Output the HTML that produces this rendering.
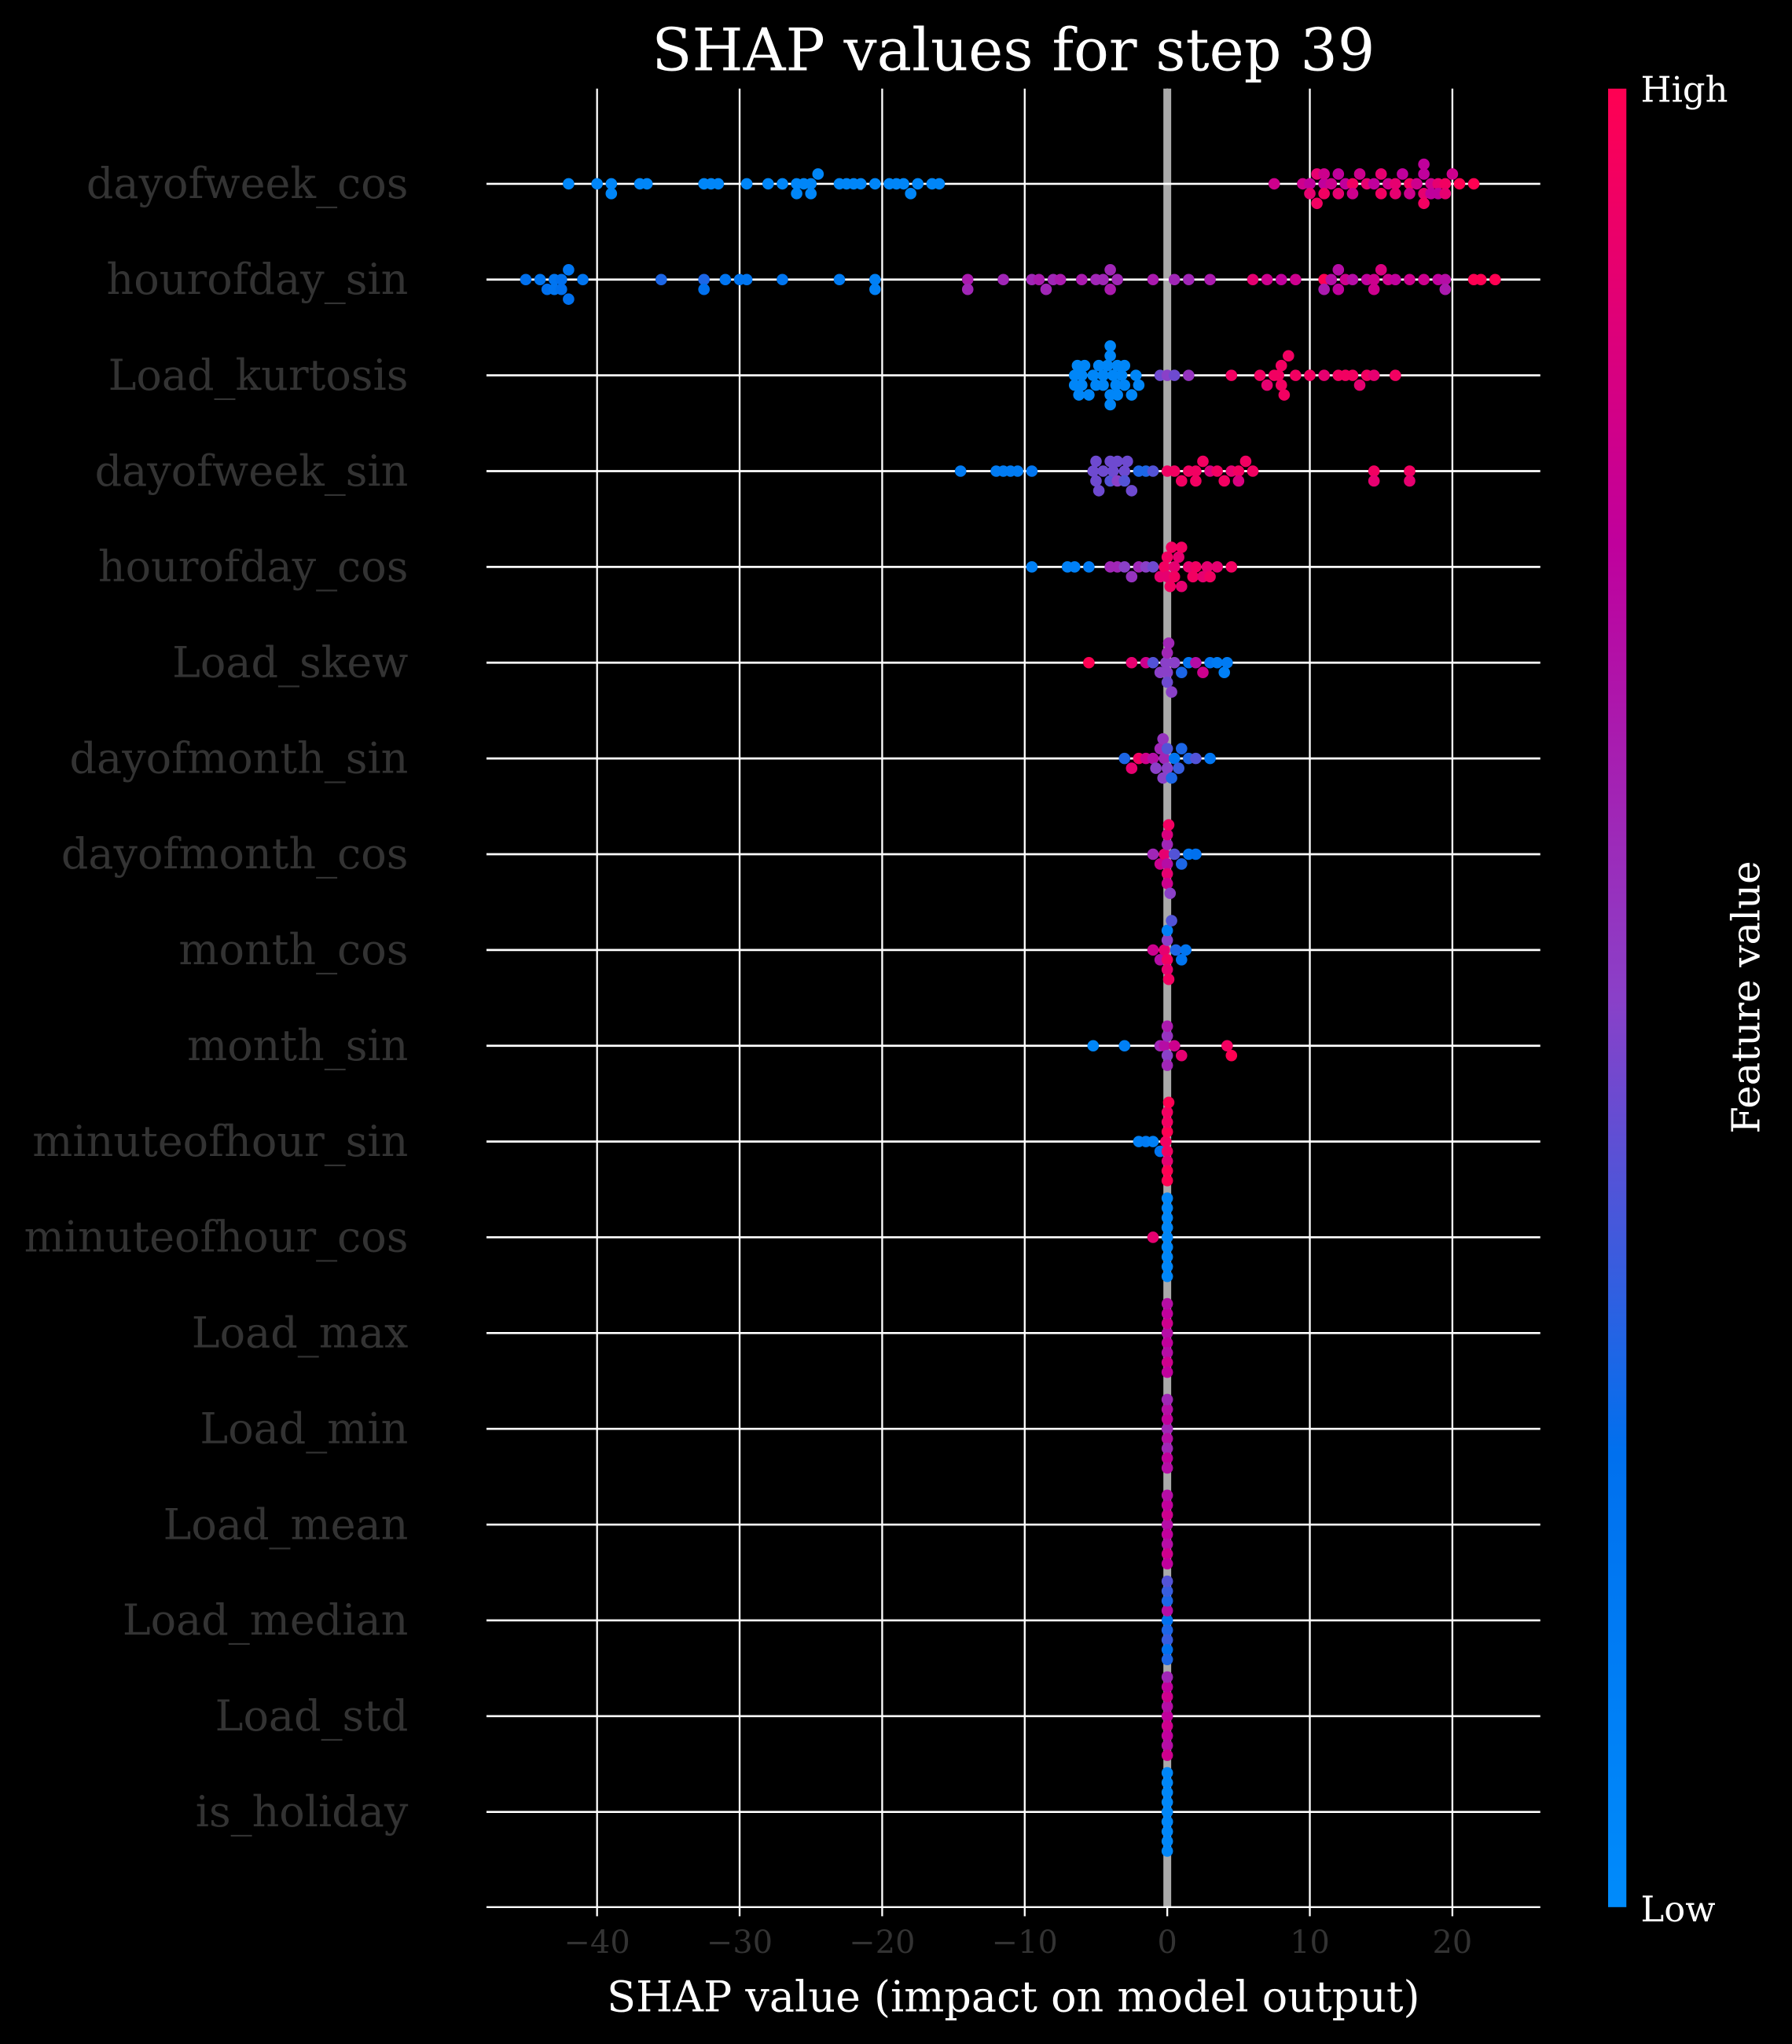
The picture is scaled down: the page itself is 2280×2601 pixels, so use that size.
<!DOCTYPE html>
<html><head><meta charset="utf-8"><style>
html,body{margin:0;padding:0;background:#000;}
svg{display:block;}
text{font-family:"DejaVu Serif","Liberation Serif",serif;}
</style></head><body>
<svg id="chart" width="2280" height="2601" viewBox="0 0 1374 1568" preserveAspectRatio="none" xmlns="http://www.w3.org/2000/svg">
<defs><linearGradient id="cb" x1="0" y1="1" x2="0" y2="0">
<stop offset="0" stop-color="#008bfb"/><stop offset="0.25" stop-color="#0070ee"/><stop offset="0.5" stop-color="#8a40c8"/><stop offset="0.75" stop-color="#c0009c"/><stop offset="1" stop-color="#ff0052"/></linearGradient></defs>
<rect width="1374" height="1568" fill="#000"/>
<text x="777" y="54" font-size="45" fill="#fff" text-anchor="middle">SHAP values for step 39</text>
<g id="grid"></g><g id="rows"></g><g id="dots"></g><g id="xaxis"></g>
<text x="777" y="1543" font-size="32.5" fill="#fff" text-anchor="middle">SHAP value (impact on model output)</text>
<rect x="1233" y="68" width="14" height="1395" fill="url(#cb)"/>
<text x="1258" y="78" font-size="27" fill="#fff">High</text>
<text x="1258" y="1474" font-size="27" fill="#fff">Low</text>
<text x="1349" y="765" font-size="30" fill="#fff" text-anchor="middle" transform="rotate(-90 1349 765)">Feature value</text>
</svg>
<script>
const features=["dayofweek_cos","hourofday_sin","Load_kurtosis","dayofweek_sin","hourofday_cos","Load_skew","dayofmonth_sin","dayofmonth_cos","month_cos","month_sin","minuteofhour_sin","minuteofhour_cos","Load_max","Load_min","Load_mean","Load_median","Load_std","is_holiday"];
const xTicks=[-40,-30,-20,-10,0,10,20];
const shapVals=[
[-42,-40,-39,-39,-37,-36.5,-32.5,-32,-31.5,-29.5,-28,-27,-26,-25.5,-25,-24.5,-23,-22,-21.5,-20.5,-19.5,-19,-18.5,-18,-17.5,-16.5,-16,-26,-25,-22.5,7.5,9.5,10,10.5,11,11,11.5,12,12.5,13,13.5,14,14.5,15,15.5,16,16.5,17,17.5,18,18,18,18.5,19,19,19.5,20,20.5,21.5,10,11,12,15,17,18.5,19.5,10.5,13,16,18],
[-45,-44,-43.5,-43,-42.5,-42,-42,-41,-35.5,-32.5,-32.5,-31,-30,-29.5,-27,-23,-20.5,-20.5,-43,-42.5,-14,-14,-11.5,-9.5,-9,-8.5,-8,-7.5,-6,-5,-4.5,-4,-3.5,-4,-1,0.5,1.5,3,6,7,8,9,11,11.5,12,12.5,13,14,14.5,15,15.5,16,17,18,19,19.5,21.5,22,23,11,12,14.5,19.5],
[-6.5,-6.5,-6.3,-6,-6,-5.5,-5,-4.5,-4.5,-4,-4,-4,-3.5,-3.5,-3,-3,-2.5,-2,-6.2,-5.8,-4.2,-3.8,-4.8,-3.2,-2.2,-5.2,-4,-3.6,-0.5,0,0.5,1.5,4.5,6.5,7,7.5,8,8,8.5,9,10,11,12,13,13.5,14,14.5,16,7.8,8.2,12.5],
[-14.5,-12,-11.5,-11,-10.5,-9.5,-5,-5,-4.5,-4,-4,-3.5,-3.5,-3,-3,-2.5,-2,-5.2,-4.8,-3.8,-2.8,-1.5,-1,0,0.5,1,1.5,2,2,2.5,3.5,4,4.5,5,5.5,6,14.5,14.5,17,17,3,5],
[-9.5,-7,-6.5,-5.5,-4,-3.5,-3,-2.5,-2,-1.5,-1,0,0,0.5,0.5,1,1,1.5,2,2.5,3,3.5,4.5,-0.5,0.2,0.8,1.8,2.8,-0.2,0.3],
[-5.5,-2.5,-1.5,-1,-0.5,0,0,0,0.3,0.5,1,1.5,2,2.5,3,3.5,4,4.2,0.1,-0.1],
[-3,-2.5,-2,-1.5,-1,-0.5,-0.3,0,0,0.3,0.5,1,1.5,2,3,-0.8,0.8,-0.3,-0.2],
[-1,-0.5,0,0,0.2,0.5,1,1.5,2,-0.2,0.1,0,0,0],
[-1,-0.5,0,0,0.3,0.6,1,1.3,-0.2,0.1,0,0],
[-5.2,-3,-0.5,0,0,0.5,1,4.2,4.5,-0.2,0,0],
[-2,-1.5,-1,-0.5,0,0,0,0.1,-0.1,0,0,0,0],
[-1,0,0,0,0,0,0,0,0,0,0,0],
[0,0,0,0,0,0,0,0],
[0,0,0,0,0,0,0,0],
[0,0,0,0,0,0,0,0],
[0,0,0,0,0,0,0,0,0],
[0,0,0,0,0,0,0,0,0],
[0,0,0,0,0,0,0,0,0,0]];
const featVals=[
[0.05,0.05,0.05,0.05,0.05,0.05,0.05,0.05,0.05,0.05,0.05,0.05,0.05,0.05,0.05,0.05,0.05,0.05,0.05,0.05,0.05,0.05,0.05,0.05,0.05,0.05,0.05,0.05,0.05,0.05,0.8,0.8,0.75,0.9,0.75,0.95,0.8,0.9,0.75,0.95,0.8,0.9,0.75,0.95,0.8,0.9,0.75,0.95,0.8,0.9,0.75,0.95,0.8,0.9,0.75,0.95,0.8,1,1,0.9,0.8,0.75,0.9,0.8,0.75,0.9,0.95,0.8,0.9,0.75],
[0.25,0.2,0.25,0.2,0.25,0.2,0.25,0.2,0.3,0.3,0.25,0.2,0.2,0.2,0.2,0.15,0.1,0.1,0.2,0.25,0.65,0.6,0.6,0.6,0.65,0.6,0.6,0.65,0.65,0.6,0.6,0.65,0.6,0.6,0.65,0.6,0.6,0.65,0.9,0.8,0.75,0.8,1,0.7,0.75,0.8,0.7,0.75,0.8,0.85,0.8,0.75,0.8,0.8,0.75,0.7,1,1,1,0.65,0.7,0.8,0.65],
[0.05,0.05,0.05,0.05,0.05,0.05,0.05,0.05,0.05,0.05,0.05,0.05,0.05,0.05,0.05,0.05,0.05,0.05,0.05,0.05,0.05,0.05,0.05,0.05,0.05,0.05,0.05,0.05,0.45,0.5,0.45,0.55,0.95,0.95,0.9,0.95,0.95,0.95,0.95,0.95,0.95,0.9,0.95,0.95,0.9,0.95,0.9,0.95,0.95,0.95,0.95],
[0.15,0.15,0.15,0.15,0.15,0.2,0.45,0.45,0.45,0.4,0.45,0.5,0.45,0.45,0.4,0.45,0.3,0.45,0.45,0.45,0.45,0.3,0.4,0.95,0.95,0.95,0.95,0.95,0.95,0.95,0.95,0.95,0.9,0.95,0.95,0.95,0.95,0.9,0.95,0.9,0.85,0.85],
[0.1,0.1,0.1,0.15,0.6,0.6,0.5,0.55,0.6,0.5,0.45,0.9,0.95,0.9,0.95,0.9,0.95,0.9,0.95,0.9,0.95,0.9,0.95,0.9,0.95,0.9,0.95,0.9,0.95,0.95],
[1,0.9,0.8,0.4,0.5,0.5,0.6,0.45,0.5,0.5,0.3,0.2,0.7,0.8,0.2,0.15,0.1,0.15,0.6,0.5],
[0.3,0.9,0.95,0.8,0.7,0.6,0.5,0.5,0.4,0.3,0.2,0.3,0.3,0.4,0.2,0.5,0.35,0.55,0.6],
[0.6,0.8,0.7,0.6,0.5,0.4,0.3,0.2,0.25,0.9,0.95,0.9,0.85,0.8],
[0.8,0.7,0.95,0.5,0.4,0.3,0.2,0.2,0.9,0.95,0.9,0.1],
[0.05,0.1,0.6,0.5,0.55,0.8,0.9,0.95,1,0.7,0.6,0.65],
[0.1,0.15,0.1,0.2,0.95,1,0.9,1,0.95,0.95,1,0.95,1],
[0.9,0.05,0.05,0.05,0.05,0.05,0.05,0.05,0.05,0.05,0.05,0.05],
[0.7,0.75,0.8,0.7,0.75,0.8,0.7,0.75],
[0.6,0.7,0.75,0.6,0.7,0.75,0.6,0.7],
[0.7,0.75,0.8,0.7,0.75,0.8,0.7,0.75],
[0.25,0.3,0.7,0.35,0.3,0.25,0.35,0.3,0.4],
[0.75,0.8,0.7,0.75,0.8,0.7,0.75,0.8,0.6],
[0.05,0.05,0.05,0.05,0.05,0.05,0.05,0.05,0.05,0.05]];

const NS="http://www.w3.org/2000/svg";
const X0=895, PX_PER_UNIT=10.93, ROW0=141, ROW_STEP=73.47, AX_L=373, AX_R=1181, AX_T=68, AX_B=1463;
const xs=v=>X0+v*PX_PER_UNIT;
const ys=i=>ROW0+i*ROW_STEP;
function mk(tag,attrs,parent){const e=document.createElementNS(NS,tag);for(const k in attrs)e.setAttribute(k,attrs[k]);parent.appendChild(e);return e;}
const stops=[[0,[0,139,251]],[0.25,[0,112,238]],[0.5,[138,64,200]],[0.75,[192,0,156]],[1,[255,0,82]]];
function col(t){for(let i=1;i<stops.length;i++){if(t<=stops[i][0]){const a=stops[i-1],b=stops[i],f=(t-a[0])/(b[0]-a[0]);return 'rgb('+a[1].map((c,j)=>Math.round(c+(b[1][j]-c)*f)).join(',')+')';}}return 'rgb(255,0,82)';}
const grid=document.getElementById('grid'),rows=document.getElementById('rows'),dots=document.getElementById('dots'),xa=document.getElementById('xaxis');
xTicks.forEach(t=>{
 const l=mk('line',{x1:xs(t),x2:xs(t),y1:AX_T,y2:AX_B,stroke:'#fff','stroke-width':1.4},grid);
 
 
 const tk=mk('line',{x1:xs(t),x2:xs(t),y1:AX_B,y2:AX_B+7,stroke:'#fff','stroke-width':1.4},xa);
 
 
 const tx=mk('text',{x:xs(t),y:AX_B+35,'font-size':24,fill:'#333','text-anchor':'middle'},xa);
 tx.textContent=(t<0?'\u2212'+(-t):String(t));
 
 
});
const zl=mk('line',{x1:xs(0),x2:xs(0),y1:AX_T,y2:AX_B,stroke:'#aaa','stroke-width':6},grid);


const ax=mk('line',{x1:AX_L,x2:AX_R,y1:AX_B,y2:AX_B,stroke:'#fff','stroke-width':1.4},xa);


features.forEach((f,i)=>{
 const y=ys(i);
 const l=mk('line',{x1:AX_L,x2:AX_R,y1:y,y2:y,stroke:'#fff','stroke-width':1.6},rows);
 
 
 const t=mk('text',{x:313,y:y+11,'font-size':32.5,fill:'#333','text-anchor':'end'},rows);
 t.textContent=f;
 
 
 const vals=shapVals[i],fv=featVals[i];
 const idx=vals.map((v,k)=>k).sort((a,b)=>vals[a]-vals[b]);
 const bins={};
 idx.forEach(k=>{
  const px=xs(vals[k]);const b=Math.round(px/8);
  const n=bins[b]||0;bins[b]=n+1;
  let m=Math.ceil(n/2)*(n%2?1:-1);let off=m*7.5;
  while(Math.abs(off)>32)off=off>0?off-30:off+30;
  const c=mk('circle',{cx:px,cy:y+off,r:4.4,fill:col(fv[k])},dots);
  
  
 });
});
</script>
</body></html>
